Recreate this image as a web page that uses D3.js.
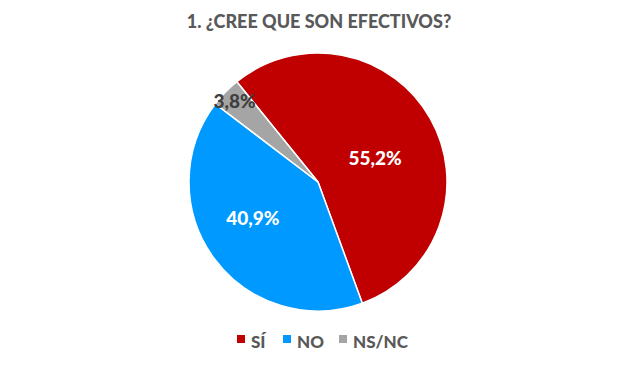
<!DOCTYPE html>
<html><head><meta charset="utf-8">
<script src="https://cdn.jsdelivr.net/npm/d3@7"></script>
<style>body{margin:0;background:#fff}svg{display:block}</style>
</head><body>
<svg id="c" width="620" height="368"></svg>
<script>
const title = "1. ¿CREE QUE SON EFECTIVOS?";
const categories = ["SÍ", "NO", "NS/NC"];
const values = [55.2, 40.9, 3.8];
const labels = ["55,2%", "40,9%", "3,8%"];
const colors = ["#C00000", "#0099FF", "#A5A5A5"];
const labelColors = ["#FFFFFF", "#FFFFFF", "#404040"];

const svg = d3.select("#c");
const font = "Lato, 'Open Sans', sans-serif";
const cx = 318, cy = 182, r = 129;
const start = -39 * Math.PI / 180;

svg.append("text").attr("x", 319).attr("y", 28).attr("text-anchor", "middle")
  .attr("font-family", font).attr("font-weight", "900").attr("font-size", 18)
  .attr("fill", "#595959").text(title);

const pie = d3.pie().sort(null).value(d => d).startAngle(start).endAngle(start + 2 * Math.PI);
const arcs = pie(values);
const arc = d3.arc().innerRadius(0).outerRadius(r);
const g = svg.append("g").attr("transform", `translate(${cx},${cy})`);
g.selectAll("path").data(arcs).join("path")
  .attr("d", arc).attr("fill", (d, i) => colors[i])
  .attr("stroke", "#fff").attr("stroke-width", 1.5).attr("stroke-linejoin", "round");

// label placement: radius fraction and angle nudge (degrees)
const labelR = [0.48, 0.58, 0.9];
const labelNudge = [7, 7, 0];
g.selectAll("text.lbl").data(arcs).join("text").attr("class", "lbl")
  .attr("transform", (d, i) => {
    const a = (d.startAngle + d.endAngle) / 2 + labelNudge[i] * Math.PI / 180;
    const rr = r * labelR[i];
    return `translate(${rr * Math.sin(a)},${-rr * Math.cos(a)})`;
  })
  .attr("text-anchor", "middle").attr("dy", "0.35em")
  .attr("font-family", font).attr("font-weight", "900").attr("font-size", 19)
  .attr("fill", (d, i) => labelColors[i]).text((d, i) => labels[i]);

const legendX = [237, 283, 339];
const lg = svg.append("g");
categories.forEach((c, i) => {
  lg.append("rect").attr("x", legendX[i]).attr("y", 335).attr("width", 8).attr("height", 8).attr("fill", colors[i]);
  lg.append("text").attr("x", legendX[i] + 14).attr("y", 348)
    .attr("font-family", font).attr("font-weight", "900").attr("font-size", 17)
    .attr("fill", "#595959").text(c);
});
</script>
</body></html>
